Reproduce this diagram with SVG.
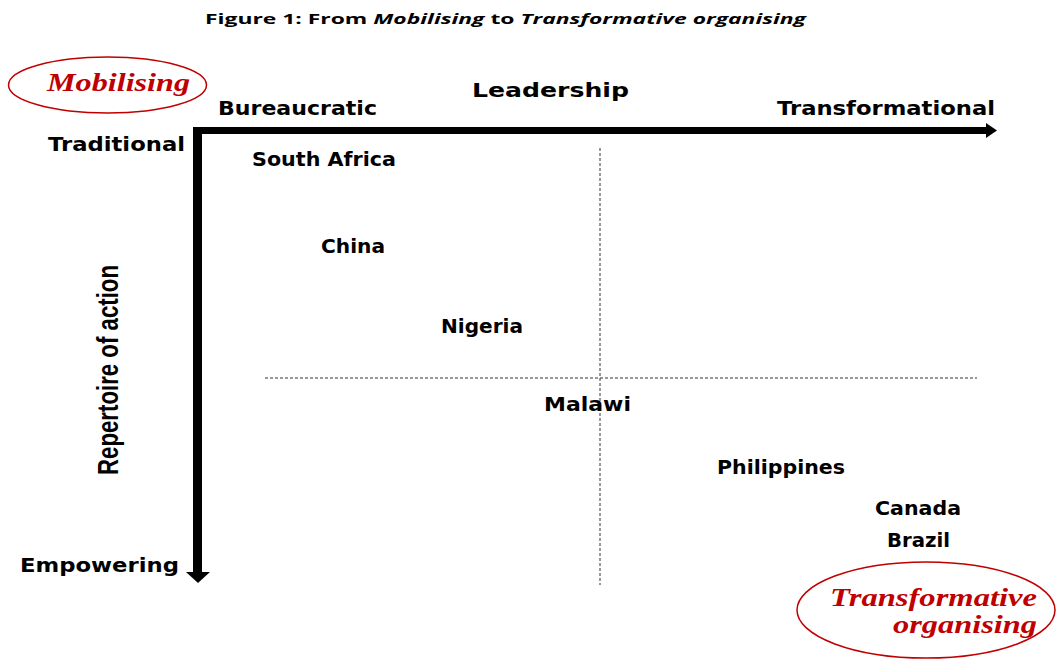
<svg xmlns="http://www.w3.org/2000/svg" width="1056" height="659" viewBox="0 0 1056 659">
<style>
.lbl{font-family:"DejaVu Sans",Verdana,sans-serif;font-weight:bold;font-size:19px;fill:#000}
.title{font-family:"Open Sans","Liberation Sans",sans-serif;font-weight:bold;font-size:15px;fill:#000}
.oval{fill:none;stroke:#c00000;stroke-width:1.5}
.otxt{font-family:"Liberation Serif","Times New Roman",serif;font-weight:bold;font-style:italic;fill:#c00000}
.dash{stroke:#333;stroke-width:1;stroke-dasharray:3 2;fill:none}
</style>
<rect width="1056" height="659" fill="#fff"/>
<text class="title" x="205" y="24" textLength="601" lengthAdjust="spacingAndGlyphs">Figure 1: From <tspan font-style="italic">Mobilising</tspan> to <tspan font-style="italic">Transformative organising</tspan></text>
<g id="connectors">
<path class="dash" d="M600 148V585"/>
<path class="dash" d="M265 378H977"/>
<path d="M193 127H986V134H193Z" fill="#000"/>
<path d="M986 123L997 130.5L986 138Z" fill="#000"/>
<path d="M193 127H202V572H193Z" fill="#000"/>
<path d="M186 572H210L198 583Z" fill="#000"/>
</g>
<g id="mobilising">
<ellipse class="oval" cx="107.5" cy="85" rx="99" ry="28"/>
<text class="otxt" x="47" y="91" font-size="25" textLength="143" lengthAdjust="spacingAndGlyphs">Mobilising</text>
</g>
<g id="transformative">
<ellipse class="oval" cx="926" cy="610" rx="129" ry="48"/>
<text class="otxt" x="830" y="606" font-size="26" textLength="207" lengthAdjust="spacingAndGlyphs">Transformative</text>
<text class="otxt" x="893" y="633" font-size="26" textLength="144" lengthAdjust="spacingAndGlyphs">organising</text>
</g>
<g id="leadership"><text class="lbl" x="472" y="97" font-size="23" textLength="157" lengthAdjust="spacingAndGlyphs">Leadership</text></g>
<g id="bureaucratic"><text class="lbl" x="218" y="115" textLength="159" lengthAdjust="spacingAndGlyphs">Bureaucratic</text></g>
<g id="transformational"><text class="lbl" x="777" y="115" textLength="218" lengthAdjust="spacingAndGlyphs">Transformational</text></g>
<g id="traditional"><text class="lbl" x="48" y="151" textLength="137" lengthAdjust="spacingAndGlyphs">Traditional</text></g>
<g id="empowering"><text class="lbl" x="20" y="572" textLength="159" lengthAdjust="spacingAndGlyphs">Empowering</text></g>
<g id="repertoire"><text font-family="'Liberation Sans',Arial,sans-serif" font-weight="bold" font-size="29" transform="translate(118,475) rotate(-90)" textLength="210" lengthAdjust="spacingAndGlyphs">Repertoire of action</text></g>
<g id="south-africa"><text class="lbl" x="252" y="166" textLength="144" lengthAdjust="spacingAndGlyphs">South Africa</text></g>
<g id="china"><text class="lbl" x="321" y="253" textLength="64" lengthAdjust="spacingAndGlyphs">China</text></g>
<g id="nigeria"><text class="lbl" x="441" y="333" textLength="82" lengthAdjust="spacingAndGlyphs">Nigeria</text></g>
<g id="malawi"><text class="lbl" x="544" y="411" textLength="87" lengthAdjust="spacingAndGlyphs">Malawi</text></g>
<g id="philippines"><text class="lbl" x="717" y="474" textLength="128" lengthAdjust="spacingAndGlyphs">Philippines</text></g>
<g id="canada"><text class="lbl" x="875" y="515" textLength="86" lengthAdjust="spacingAndGlyphs">Canada</text></g>
<g id="brazil"><text class="lbl" x="887" y="547" textLength="63" lengthAdjust="spacingAndGlyphs">Brazil</text></g>
</svg>
